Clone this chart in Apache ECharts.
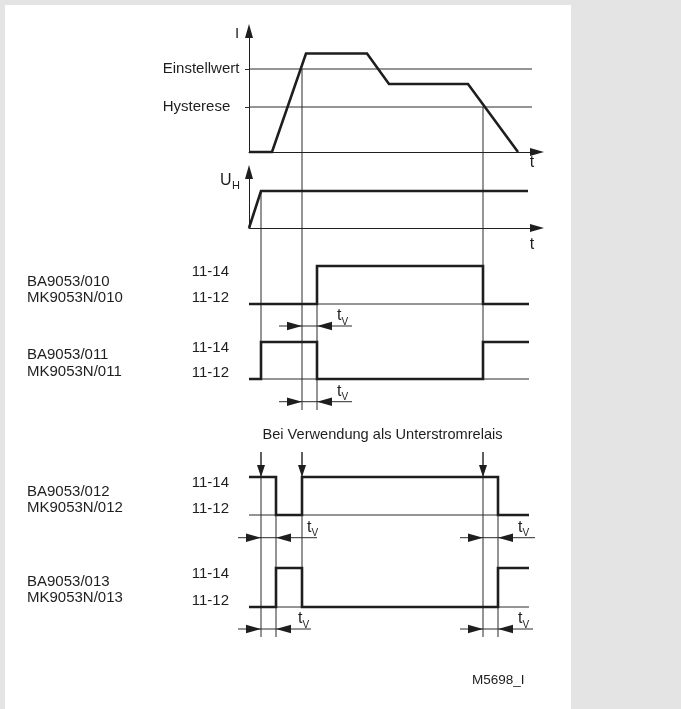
<!DOCTYPE html>
<html><head><meta charset="utf-8">
<script src="https://cdn.jsdelivr.net/npm/echarts@6/dist/echarts.min.js"></script>
<style>html,body{margin:0;padding:0;background:#e4e4e4}#c{width:681px;height:709px}</style>
</head><body><div id="c"></div>
<script>
// ---------------- data ----------------
// current I(t)
const iTimes  = [0, 23, 57, 118, 140, 219, 269];
const iValues = [0, 0, 98.5, 98.5, 68, 68, 0];
const iThresholds = [45, 83];                     // Hysterese, Einstellwert
const iThresholdLabels = ['Hysterese', 'Einstellwert'];
const thresholdEnd = 283;
// supply voltage U_H(t)
const uTimes  = [0, 12, 279];
const uValues = [0, 37, 37];
// relay contact states (0 = 11-12, 1 = 11-14)
const contactLabels = ['11-12', '11-14'];
const relayEnd = 280;
const r010Edges = [0, 68, 234, relayEnd];      const r010States = [0, 1, 0];
const r011Edges = [0, 12, 68, 234, relayEnd];  const r011States = [0, 1, 0, 1];
const r012Edges = [0, 27, 53, 249, relayEnd];  const r012States = [1, 0, 1, 0];
const r013Edges = [0, 27, 53, 249, relayEnd];  const r013States = [0, 1, 0, 1];
const modelNames = [
  ['BA9053/010', 'MK9053N/010'],
  ['BA9053/011', 'MK9053N/011'],
  ['BA9053/012', 'MK9053N/012'],
  ['BA9053/013', 'MK9053N/013']
];
// time markers: [time, yFrom, yTo] on the layout axis
const guides = [
  [12, 191, 379], [12, 452, 637],
  [53, 69, 410],  [53, 452, 607],
  [68, 266, 410],
  [234, 107, 379], [234, 452, 637],
  [27, 477, 637], [249, 477, 637]
];
const downArrows = [[12, 452, 477], [53, 452, 477], [234, 452, 477]];
// t_V dimension markers: [lineFrom, lineTo, leftTip, rightTip, y, labelTime]
const tvMarks = [
  [30, 103, 53, 68, 326, 88],
  [30, 103, 53, 68, 401.7, 88],
  [-11, 68, 12, 27, 537.7, 58],
  [211, 286, 234, 249, 537.7, 269],
  [-11, 62, 12, 27, 629, 49],
  [211, 284, 234, 249, 629, 269]
];
const titleUnder = 'Bei Verwendung als Unterstromrelais';
const figureId = 'M5698_I';

// ---------------- style / layout ----------------
const INK = '#1e1e1e';
const THIN = '#2a2a2a';
const FONT = '"Liberation Sans", Arial, sans-serif';
const TMAX = 288;
const relayGrids = [
  {top: 266, height: 38}, {top: 342, height: 37},
  {top: 477, height: 38}, {top: 568, height: 39}
];
const nameCenters = [290, 363.3, 500, 590];

function stepPoints(edges, states) {
  const pts = [];
  for (let i = 0; i < states.length; i++) pts.push([edges[i], states[i]]);
  pts.push([edges[edges.length - 1], states[states.length - 1]]);
  return pts;
}
const relayData = [
  [r010Edges, r010States], [r011Edges, r011States],
  [r012Edges, r012States], [r013Edges, r013States]
];

const grids = [
  {left: 249, top: 31, width: TMAX, height: 121},
  {left: 249, top: 172, width: TMAX, height: 56}
];
relayGrids.forEach(g => grids.push({left: 249, top: g.top, width: TMAX, height: g.height}));
grids.push({left: 249, top: 0, width: TMAX, height: 709}); // overlay
grids.forEach(g => g.outerBoundsMode = 'none');

const arrowLine = {show: true, symbol: ['none', 'triangle'], symbolSize: [8, 14],
  lineStyle: {color: INK, width: 1}};
const xAxes = grids.map((g, i) => ({
  gridIndex: i, type: 'value', min: 0, max: TMAX,
  show: i < 2, axisLine: i < 2 ? arrowLine : {show: false},
  axisTick: {show: false}, axisLabel: {show: false}, splitLine: {show: false}
}));
const yAxes = [
  {gridIndex: 0, type: 'value', min: 0, max: 121, axisLine: arrowLine,
   axisTick: {show: true, customValues: iThresholds, length: 4, lineStyle: {color: THIN, width: 1}},
   axisLabel: {show: true, customValues: iThresholds, align: 'left', margin: 86.3,
     formatter: v => iThresholdLabels[iThresholds.indexOf(v)],
     color: INK, fontSize: 15, fontFamily: FONT},
   splitLine: {show: false}},
  {gridIndex: 1, type: 'value', min: 0, max: 56, axisLine: arrowLine,
   axisTick: {show: false}, axisLabel: {show: false}, splitLine: {show: false}}
];
relayGrids.forEach((g, k) => yAxes.push({
  gridIndex: 2 + k, type: 'value', min: 0, max: 1, interval: 1,
  axisLine: {show: false}, axisTick: {show: false}, splitLine: {show: false},
  axisLabel: {show: true, margin: 20, color: INK, fontSize: 15, fontFamily: FONT,
    formatter: v => v === 1 ? '{hi|' + contactLabels[1] + '}' : '{lo|' + contactLabels[0] + '}',
    rich: {hi: {padding: [11, 0, 0, 0], fontSize: 15, fontFamily: FONT, color: INK},
           lo: {padding: [0, 0, 13, 0], fontSize: 15, fontFamily: FONT, color: INK}}}
}));
yAxes.push({gridIndex: 6, type: 'value', min: 0, max: 709, inverse: true, show: false});

const thick = {color: INK, width: 2.6, cap: 'butt', join: 'miter'};
const thin = {color: THIN, width: 1};
const series = [];
series.push({
  type: 'custom', xAxisIndex: 6, yAxisIndex: 6, clip: false, silent: true, z: 1,
  data: guides,
  renderItem: (p, api) => {
    const a = api.coord([api.value(0), api.value(1)]);
    const b = api.coord([api.value(0), api.value(2)]);
    return {type: 'line', shape: {x1: a[0], y1: a[1], x2: b[0], y2: b[1]},
      style: {stroke: THIN, lineWidth: 1}};
  }
});
iThresholds.forEach(v => series.push({
  type: 'line', xAxisIndex: 0, yAxisIndex: 0, data: [[0, v], [thresholdEnd, v]],
  symbol: 'none', lineStyle: thin, clip: false, silent: true, z: 2
}));
series.push({type: 'line', xAxisIndex: 0, yAxisIndex: 0,
  data: iTimes.map((t, i) => [t, iValues[i]]), symbol: 'none', lineStyle: thick, clip: false, z: 3});
series.push({type: 'line', xAxisIndex: 1, yAxisIndex: 1,
  data: uTimes.map((t, i) => [t, uValues[i]]), symbol: 'none', lineStyle: thick, clip: false, z: 3});
relayData.forEach((r, k) => {
  series.push({type: 'line', xAxisIndex: 2 + k, yAxisIndex: 2 + k,
    data: [[0, 0], [relayEnd, 0]], symbol: 'none', lineStyle: thin, clip: false, z: 2});
  series.push({type: 'line', xAxisIndex: 2 + k, yAxisIndex: 2 + k, step: 'end',
    data: stepPoints(r[0], r[1]), symbol: 'none', lineStyle: thick, clip: false, z: 3});
});
series.push({
  type: 'custom', xAxisIndex: 6, yAxisIndex: 6, clip: false, silent: true, z: 4,
  data: downArrows,
  renderItem: (p, api) => {
    const a = api.coord([api.value(0), api.value(1)]);
    const b = api.coord([api.value(0), api.value(2)]);
    return {type: 'group', children: [
      {type: 'line', shape: {x1: a[0], y1: a[1], x2: b[0], y2: b[1] - 6}, style: {stroke: THIN, lineWidth: 1}},
      {type: 'polygon', shape: {points: [[b[0], b[1]], [b[0] - 4, b[1] - 12], [b[0] + 4, b[1] - 12]]}, style: {fill: INK}}
    ]};
  }
});
series.push({
  type: 'custom', xAxisIndex: 6, yAxisIndex: 6, clip: false, silent: true, z: 4,
  data: tvMarks,
  renderItem: (p, api) => {
    const y = api.value(4);
    const A = api.coord([api.value(0), y]), B = api.coord([api.value(1), y]);
    const L = api.coord([api.value(2), y]), R = api.coord([api.value(3), y]);
    const T = api.coord([api.value(5), y]);
    const len = 15, h = 4.3;
    return {type: 'group', children: [
      {type: 'line', shape: {x1: A[0], y1: A[1], x2: B[0], y2: B[1]}, style: {stroke: THIN, lineWidth: 1}},
      {type: 'polygon', shape: {points: [[L[0], L[1]], [L[0] - len, L[1] - h], [L[0] - len, L[1] + h]]}, style: {fill: INK}},
      {type: 'polygon', shape: {points: [[R[0], R[1]], [R[0] + len, R[1] - h], [R[0] + len, R[1] + h]]}, style: {fill: INK}},
      {type: 'text', x: T[0], y: T[1] - 2, style: {text: 't', font: '16px ' + FONT, fill: INK, align: 'left', verticalAlign: 'bottom'}},
      {type: 'text', x: T[0] + 4.5, y: T[1] + 1, style: {text: 'V', font: '10px ' + FONT, fill: INK, align: 'left', verticalAlign: 'bottom'}}
    ]};
  }
});

const txt = (x, y, text, size, align, extra) => Object.assign({
  type: 'text', x: x, y: y, silent: true,
  style: Object.assign({text: text, font: size + 'px ' + FONT, fill: INK, align: align || 'left', verticalAlign: 'middle'}, extra || {})
});
const graphic = [
  {type: 'rect', shape: {x: 5, y: 5, width: 566, height: 704}, style: {fill: '#ffffff'}, z: -10, silent: true},
  txt(237, 33.5, 'I', 15, 'center'),
  txt(220, 181, 'U', 16, 'left'),
  txt(232, 186, 'H', 11, 'left'),
  txt(532, 163, 't', 16, 'center'),
  txt(532, 245, 't', 16, 'center'),
  txt(382.5, 435, titleUnder, 14.6, 'center'),
  txt(472, 680, figureId, 13.5, 'left')
];
modelNames.forEach((n, k) => graphic.push(txt(27, nameCenters[k], n.join('\n'), 15, 'left', {lineHeight: 16.6})));

const chart = echarts.init(document.getElementById('c'), null, {renderer: 'canvas'});
chart.setOption({
  backgroundColor: '#e4e4e4',
  animation: false,
  grid: grids, xAxis: xAxes, yAxis: yAxes, series: series, graphic: graphic
});
</script></body></html>
